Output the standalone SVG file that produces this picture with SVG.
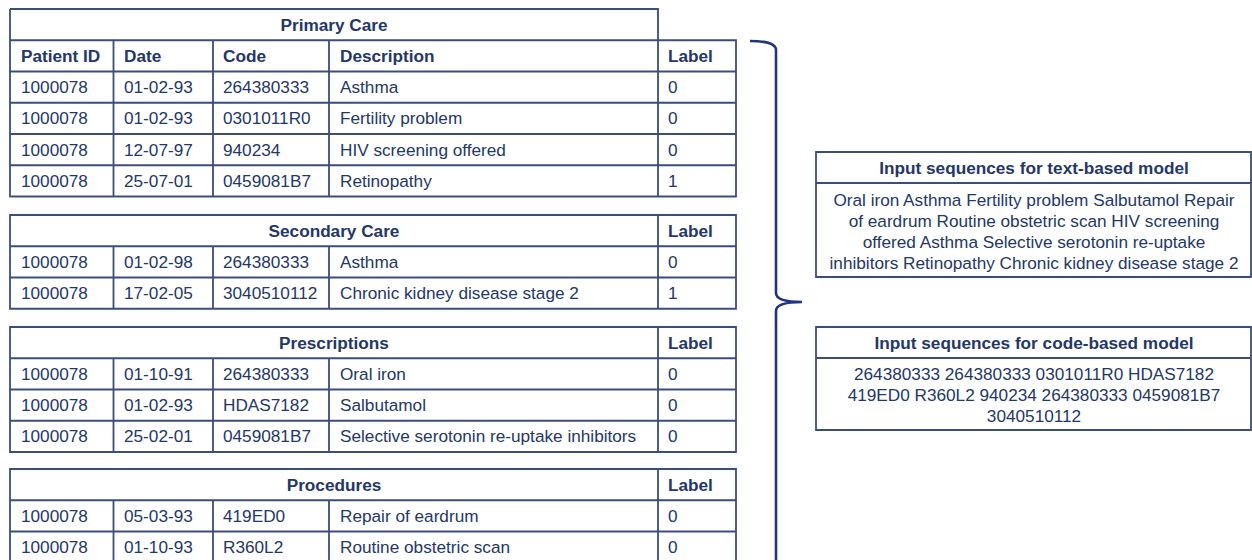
<svg xmlns="http://www.w3.org/2000/svg" width="1252" height="560" viewBox="0 0 1252 560">
<style>
.ln{fill:none;stroke:#3a4e7c;stroke-width:1.8}
.t{font-family:"Liberation Sans",Arial,sans-serif;font-size:17.2px;fill:#22376a}
.b{font-weight:bold}
.c{text-anchor:middle}
.br{fill:none;stroke:#1f3583;stroke-width:2.6}
</style>
<rect width="1252" height="560" fill="#fff"/>
<g id="primary-care">
<path class="ln" d="M10,9H658V40.25M10,9V40.25H736V196.5H10V40.25M10,71.5H736M10,102.75H736M10,134H736M10,165.25H736M113.5,40.25V196.5M213,40.25V196.5M329,40.25V196.5M658,40.25V196.5"/>
<text class="t b c" x="334" y="30.5">Primary Care</text>
<text class="t b" x="21" y="62">Patient ID</text><text class="t b" x="124" y="62">Date</text><text class="t b" x="223" y="62">Code</text><text class="t b" x="340" y="62">Description</text><text class="t b" x="668" y="62">Label</text>
<text class="t" x="21" y="93">1000078</text><text class="t" x="124" y="93">01-02-93</text><text class="t" x="223" y="93">264380333</text><text class="t" x="340" y="93">Asthma</text><text class="t" x="668" y="93">0</text>
<text class="t" x="21" y="124.25">1000078</text><text class="t" x="124" y="124.25">01-02-93</text><text class="t" x="223" y="124.25">0301011R0</text><text class="t" x="340" y="124.25">Fertility problem</text><text class="t" x="668" y="124.25">0</text>
<text class="t" x="21" y="155.5">1000078</text><text class="t" x="124" y="155.5">12-07-97</text><text class="t" x="223" y="155.5">940234</text><text class="t" x="340" y="155.5">HIV screening offered</text><text class="t" x="668" y="155.5">0</text>
<text class="t" x="21" y="186.75">1000078</text><text class="t" x="124" y="186.75">25-07-01</text><text class="t" x="223" y="186.75">0459081B7</text><text class="t" x="340" y="186.75">Retinopathy</text><text class="t" x="668" y="186.75">1</text>
</g>
<g id="secondary-care">
<path class="ln" d="M10,215H736V308.75H10ZM10,246.25H736M10,277.5H736M113.5,246.25V308.75M213,246.25V308.75M329,246.25V308.75M658,215V308.75"/>
<text class="t b c" x="334" y="236.5">Secondary Care</text><text class="t b" x="668" y="236.5">Label</text>
<text class="t" x="21" y="267.75">1000078</text><text class="t" x="124" y="267.75">01-02-98</text><text class="t" x="223" y="267.75">264380333</text><text class="t" x="340" y="267.75">Asthma</text><text class="t" x="668" y="267.75">0</text>
<text class="t" x="21" y="299">1000078</text><text class="t" x="124" y="299">17-02-05</text><text class="t" x="223" y="299">3040510112</text><text class="t" x="340" y="299">Chronic kidney disease stage 2</text><text class="t" x="668" y="299">1</text>
</g>
<g id="prescriptions">
<path class="ln" d="M10,327H736V452H10ZM10,358.25H736M10,389.5H736M10,420.75H736M113.5,358.25V452M213,358.25V452M329,358.25V452M658,327V452"/>
<text class="t b c" x="334" y="348.5">Prescriptions</text><text class="t b" x="668" y="348.5">Label</text>
<text class="t" x="21" y="379.75">1000078</text><text class="t" x="124" y="379.75">01-10-91</text><text class="t" x="223" y="379.75">264380333</text><text class="t" x="340" y="379.75">Oral iron</text><text class="t" x="668" y="379.75">0</text>
<text class="t" x="21" y="411">1000078</text><text class="t" x="124" y="411">01-02-93</text><text class="t" x="223" y="411">HDAS7182</text><text class="t" x="340" y="411">Salbutamol</text><text class="t" x="668" y="411">0</text>
<text class="t" x="21" y="442.25">1000078</text><text class="t" x="124" y="442.25">25-02-01</text><text class="t" x="223" y="442.25">0459081B7</text><text class="t" x="340" y="442.25">Selective serotonin re-uptake inhibitors</text><text class="t" x="668" y="442.25">0</text>
</g>
<g id="procedures">
<path class="ln" d="M10,469H736V562.75H10ZM10,500.25H736M10,531.5H736M113.5,500.25V562.75M213,500.25V562.75M329,500.25V562.75M658,469V562.75"/>
<text class="t b c" x="334" y="490.5">Procedures</text><text class="t b" x="668" y="490.5">Label</text>
<text class="t" x="21" y="522">1000078</text><text class="t" x="124" y="522">05-03-93</text><text class="t" x="223" y="522">419ED0</text><text class="t" x="340" y="522">Repair of eardrum</text><text class="t" x="668" y="522">0</text>
<text class="t" x="21" y="553.25">1000078</text><text class="t" x="124" y="553.25">01-10-93</text><text class="t" x="223" y="553.25">R360L2</text><text class="t" x="340" y="553.25">Routine obstetric scan</text><text class="t" x="668" y="553.25">0</text>
</g>
<g id="connectors">
<path class="br" d="M750,41Q776,41 776,50V293Q776,302 802,302Q776,302 776,311V562"/>
</g>
<g id="text-model">
<path class="ln" d="M816,152H1251V277H816ZM816,183H1251"/>
<text class="t b c" x="1034" y="174">Input sequences for text-based model</text>
<text class="t c" x="1034" y="206">Oral iron Asthma Fertility problem Salbutamol Repair</text>
<text class="t c" x="1034" y="227">of eardrum Routine obstetric scan HIV screening</text>
<text class="t c" x="1034" y="248">offered Asthma Selective serotonin re-uptake</text>
<text class="t c" x="1034" y="269">inhibitors Retinopathy Chronic kidney disease stage 2</text>
</g>
<g id="code-model">
<path class="ln" d="M816,327H1251V430H816ZM816,358H1251"/>
<text class="t b c" x="1034" y="349">Input sequences for code-based model</text>
<text class="t c" x="1034" y="380">264380333 264380333 0301011R0 HDAS7182</text>
<text class="t c" x="1034" y="401">419ED0 R360L2 940234 264380333 0459081B7</text>
<text class="t c" x="1034" y="422">3040510112</text>
</g>
</svg>
